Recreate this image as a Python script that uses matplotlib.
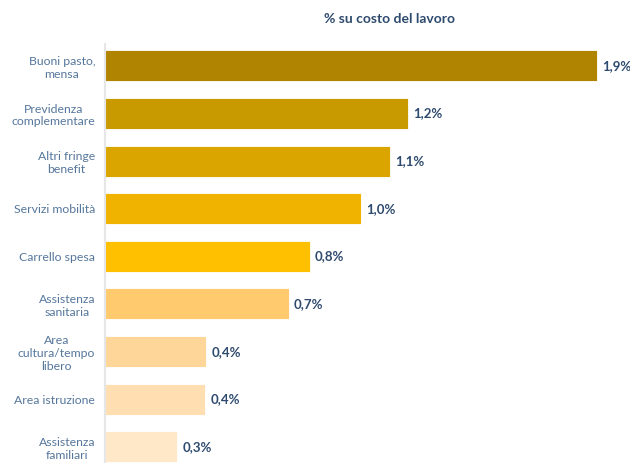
import matplotlib
matplotlib.use("Agg")
import matplotlib.pyplot as plt

categories = ["Buoni pasto,\nmensa", "Previdenza\ncomplementare", "Altri fringe\nbenefit",
              "Servizi mobilità", "Carrello spesa", "Assistenza\nsanitaria",
              "Area\ncultura/tempo\nlibero", "Area istruzione", "Assistenza\nfamiliari"]
values = [1.90, 1.17, 1.10, 0.99, 0.79, 0.71, 0.39, 0.386, 0.278]
value_labels = ["1,9%", "1,2%", "1,1%", "1,0%", "0,8%", "0,7%", "0,4%", "0,4%", "0,3%"]
colors = ["#B08300", "#C99A00", "#DBA500", "#F0B400", "#FFC000",
          "#FFCA6E", "#FFD699", "#FFDFB2", "#FFE8C8"]

plt.rcParams['font.family'] = ['Lato', 'DejaVu Sans']

fig = plt.figure(figsize=(6.3, 4.63), dpi=100)
ax = fig.add_axes([105/630, 0, 1 - 105/630, 419/463])

ypos = list(range(len(categories)))
ax.barh(ypos, values, height=0.65, color=colors, edgecolor="white", linewidth=0.6, zorder=2)
for y, v, lab in zip(ypos, values, value_labels):
    ax.text(v + 0.02, y, lab, va="center", ha="left", fontsize=9.5,
            fontweight="bold", color="#2E4A6E")

ax.set_xlim(0, 525/259)
ax.set_ylim(8.34, -0.46)
ax.set_yticks(ypos)
ax.set_yticklabels(categories, fontsize=8.8, color="#56779C", linespacing=1.2)
ax.tick_params(axis="y", length=0, pad=7)
ax.set_xticks([])
for s in ["top", "right", "bottom"]:
    ax.spines[s].set_visible(False)
ax.spines["left"].set_color("#E6E6E6")
ax.spines["left"].set_linewidth(1.5)
for t in ax.get_yticklabels():
    t.set_horizontalalignment("right")
    t.set_multialignment("center")

fig.text(389/630, 1 - 19/463, "% su costo del lavoro", ha="center", va="center",
         fontsize=10, fontweight="bold", color="#2E4A6E")

fig.savefig("out.png", dpi=100)
